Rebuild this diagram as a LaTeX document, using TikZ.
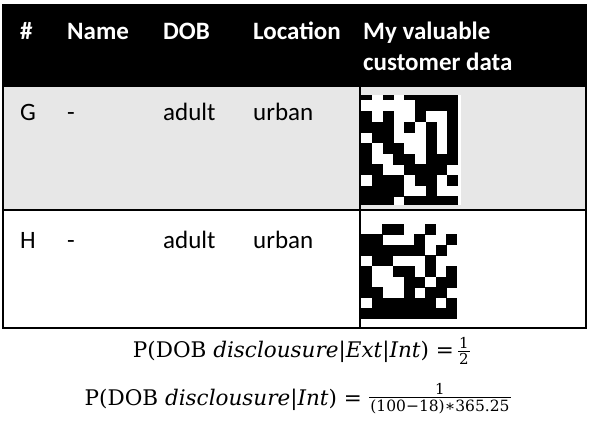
\documentclass[tikz,border=0pt]{standalone}
\usepackage{fontspec}
\setmainfont{Carlito}
\newfontfamily\serfam{DejaVu Serif}
\definecolor{rowgray}{RGB}{231,231,231}
\tikzset{
  hdr/.style={anchor=base west,inner sep=0pt,text=white,font=\fontsize{25}{31}\selectfont\bfseries},
  cell/.style={anchor=base west,inner sep=0pt,text=black,font=\fontsize{25}{31}\selectfont},
  frm/.style={anchor=base east,inner sep=0pt,font=\serfam\fontsize{21.5}{26}\selectfont},
  fracnum/.style={inner sep=0pt,font=\serfam\fontsize{15}{17}\selectfont},
  fracden/.style={inner sep=0pt,font=\serfam\fontsize{15.5}{18}\selectfont},
  fracbar/.style={line width=0.9pt},
  rule/.style={line width=1.1pt,draw=black}
}
\begin{document}
\begin{tikzpicture}[x=1pt,y=-1pt]
\useasboundingbox (0,0) rectangle (590,425);
\fill[white] (0,0) rectangle (590,425);
% table body
\fill[rowgray] (3,87) rectangle (586,210);
\fill[black] (3,5) rectangle (586,87);
\draw[rule] (3,5) rectangle (586,328);
\draw[rule] (3,210) -- (586,210);
\draw[rule] (360,87) -- (360,328);
% header
\node[hdr] (hA) at (20,40) {\#};
\node[hdr] (hB) at (67,40) {Name};
\node[hdr] (hC) at (163,40) {DOB};
\node[hdr] (hD) at (253,40) {Location};
\node[hdr] (hE) at (363,40) {My valuable};
\node[hdr] (hF) at (363,71) {customer data};
% row G
\node[cell] (gA) at (20,121) {G};
\node[cell] (gB) at (67,121) {-};
\node[cell] (gC) at (163,121) {adult};
\node[cell] (gD) at (253,121) {urban};
% row H
\node[cell] (kA) at (20,249) {H};
\node[cell] (kB) at (67,249) {-};
\node[cell] (kC) at (163,249) {adult};
\node[cell] (kD) at (253,249) {urban};
% grid 1 (9 columns)
\fill[white] (361,95) rectangle (461,205);
\foreach \v [count=\c from 0] in {1,0,1,0,1,1,1,1,1}{
  \ifnum\v=1 \fill[black] ({361+10.75*\c},95.3) rectangle +(11.05,5.2); \fi
}
\foreach \row [count=\r from 0] in {
  {0,0,0,0,0,1,1,1,1},
  {1,0,1,0,0,1,0,0,1},
  {1,1,1,0,1,0,1,0,1},
  {0,1,1,0,0,0,1,0,1},
  {1,0,1,1,0,0,1,0,1},
  {1,0,0,1,1,0,1,1,1},
  {1,1,0,0,1,1,1,1,0},
  {0,1,1,1,0,1,1,0,1},
  {1,1,1,1,0,0,1,0,0},
  {1,1,1,0,1,1,1,1,1}}{
  \foreach \v [count=\c from 0] in \row {
    \ifnum\v=1 \fill[black] ({361+10.75*\c},{100.3+10.67*\r}) rectangle +(11.05,{min(10.97,205-100.3-10.67*\r)}); \fi
  }
}
% grid 2 (9 x 9)
\fill[white] (361,223.7) rectangle (457,319);
\foreach \row [count=\r from 0] in {
  {0,0,1,1,0,0,1,0,0},
  {1,1,0,0,0,1,0,0,1},
  {1,1,1,1,1,1,0,1,0},
  {0,1,1,0,0,0,1,0,0},
  {1,0,0,1,1,0,1,0,1},
  {1,0,0,0,1,1,0,1,1},
  {1,1,0,0,1,0,1,1,0},
  {0,1,1,1,1,1,1,0,1},
  {1,1,1,1,1,1,1,1,1}}{
  \foreach \v [count=\c from 0] in \row {
    \ifnum\v=1 \fill[black] ({361+10.67*\c},{223.7+10.6*\r}) rectangle +(10.97,10.9); \fi
  }
}
% formula 1
\node[frm] (f1) at (454,358) {P(DOB \textit{disclousure}|\textit{Ext}|\textit{Int}) =};
\node[fracnum,anchor=south] (n1) at (464,349) {1};
\node[fracnum,anchor=north] (d1) at (464,353.5) {2};
\draw[fracbar] ([xshift=-1pt,yshift=2.3pt]d1.north west) -- ([xshift=1pt,yshift=2.3pt]d1.north east);
% formula 2
\node[frm] (f2) at (362,405) {P(DOB \textit{disclousure}|\textit{Int}) =};
\node[fracden,anchor=north] (d2) at (440,399.5) {(100−18)∗365.25};
\node[fracnum,anchor=south] (n2) at (440,395) {1};
\draw[fracbar] ([xshift=-1pt,yshift=2.3pt]d2.north west) -- ([xshift=1pt,yshift=2.3pt]d2.north east);
\end{tikzpicture}
\end{document}
